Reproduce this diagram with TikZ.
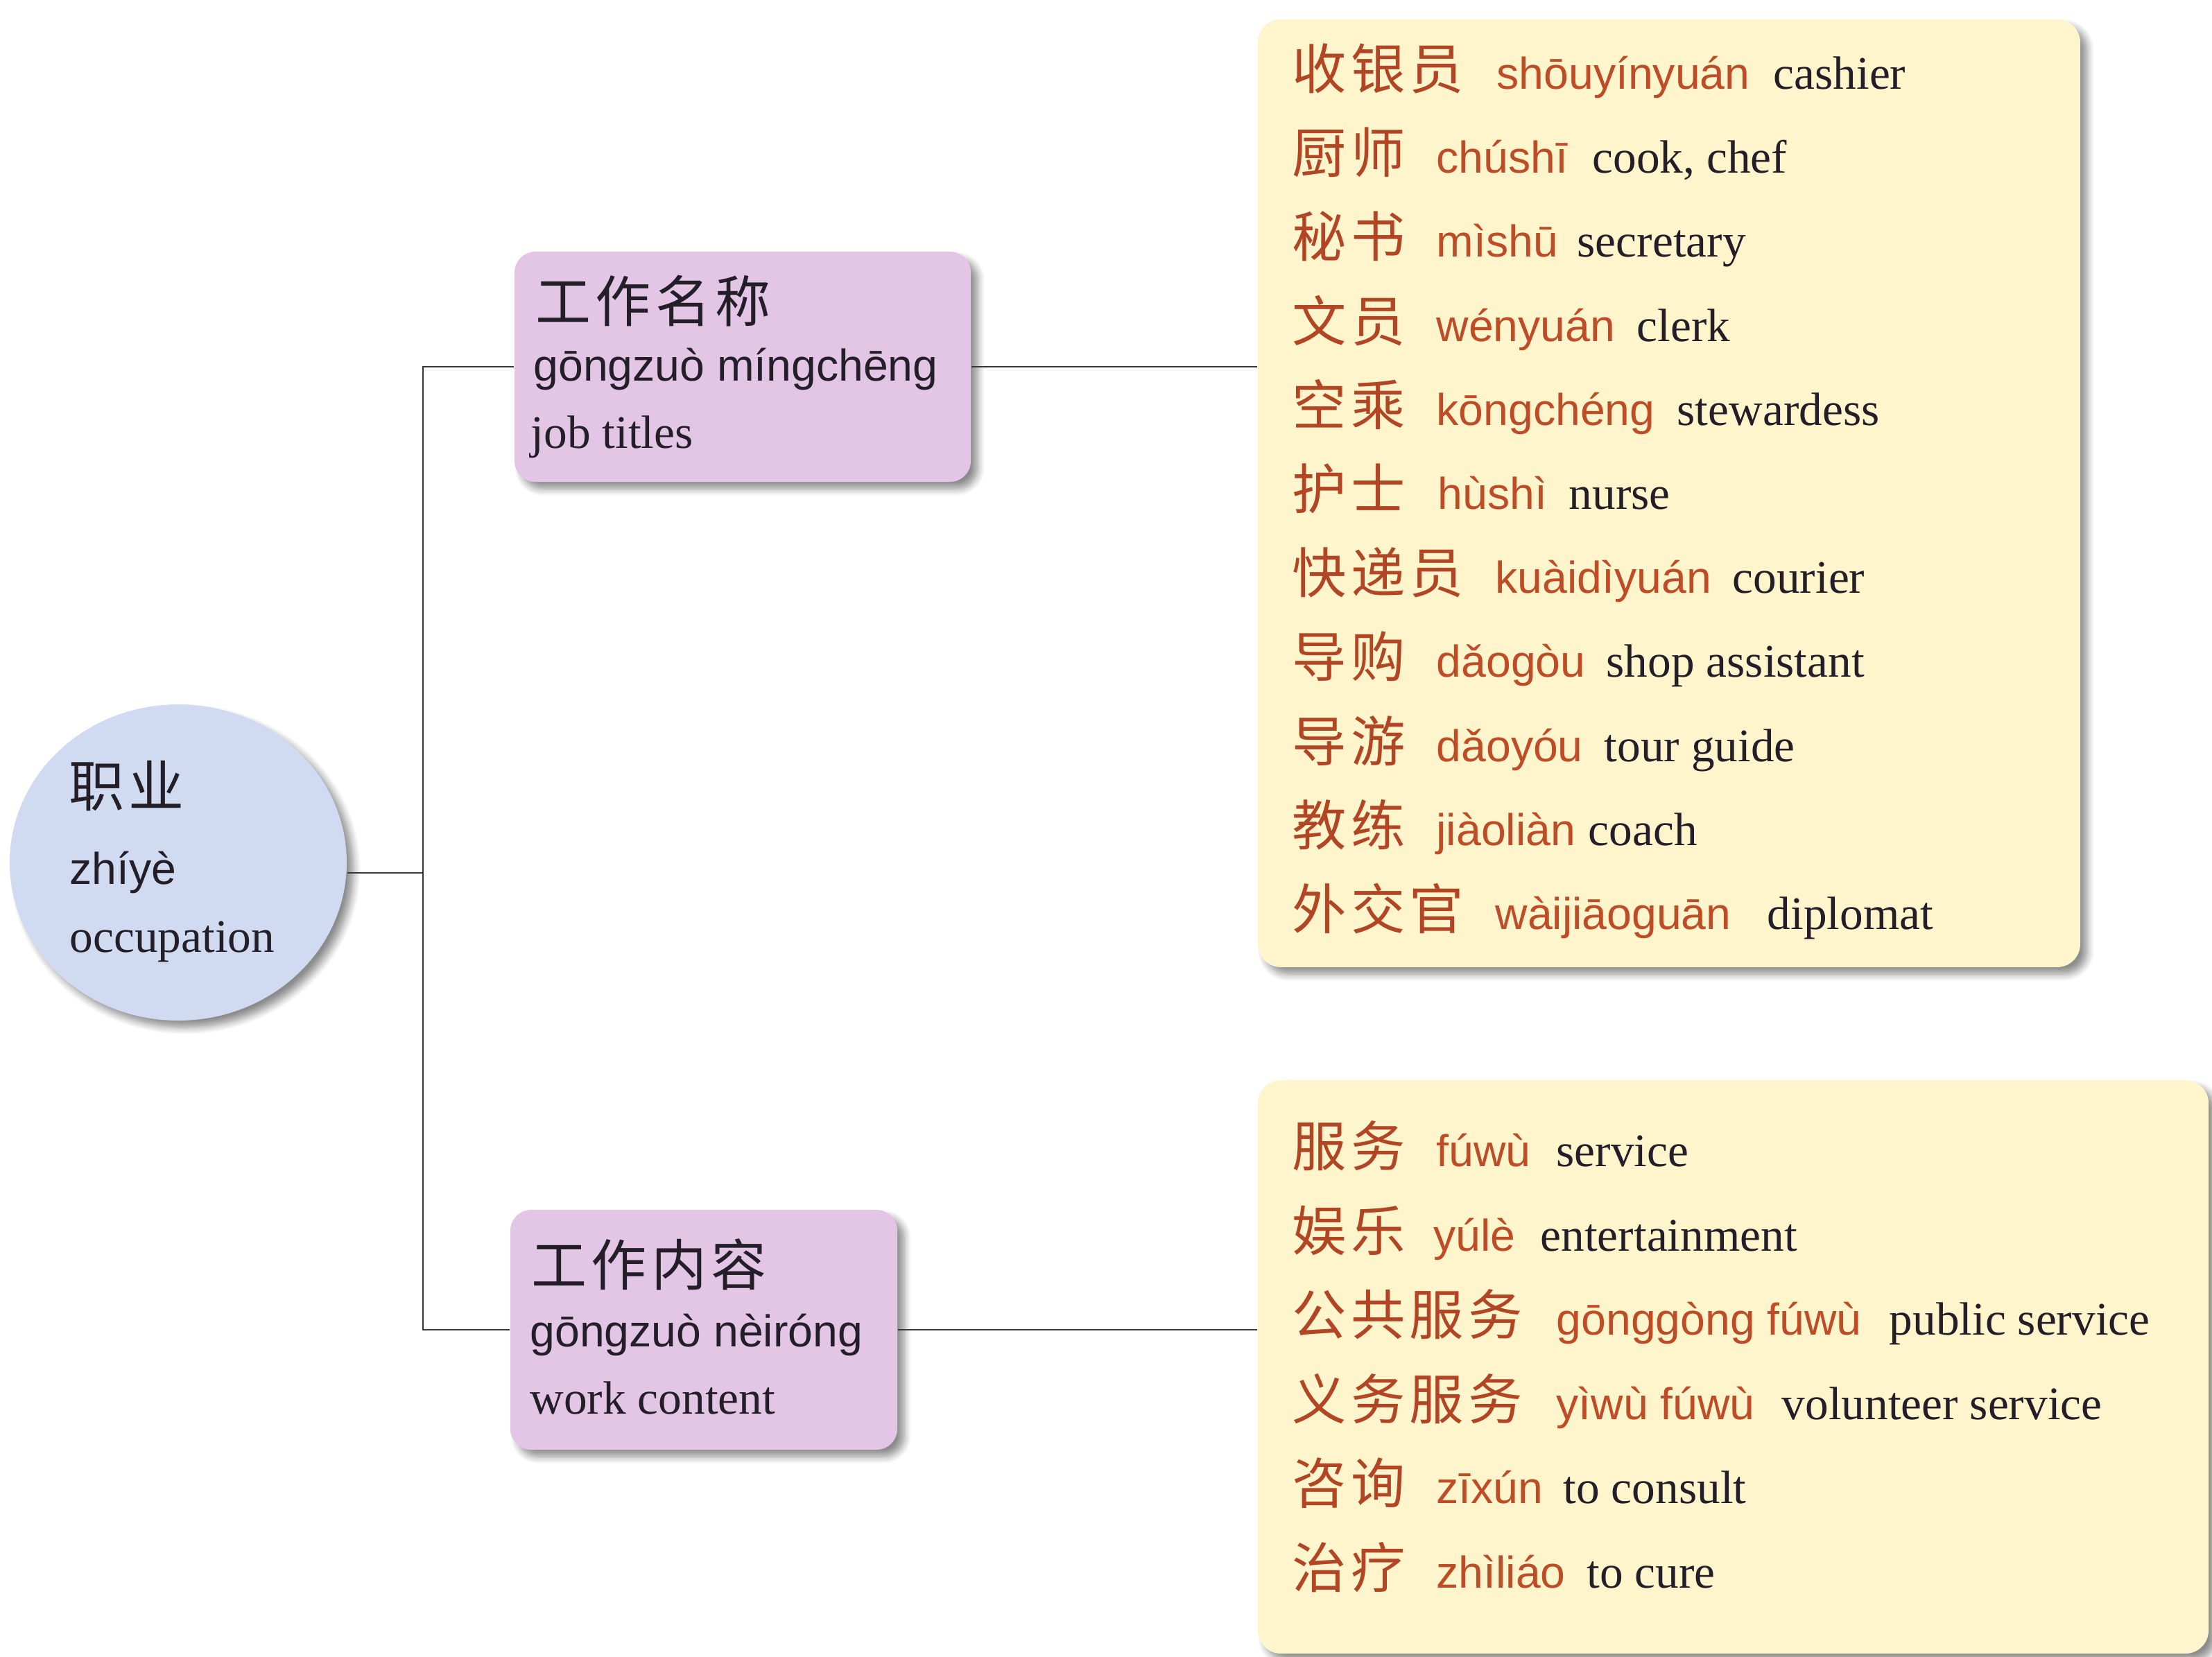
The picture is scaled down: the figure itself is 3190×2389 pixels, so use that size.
\documentclass[tikz,border=0pt]{standalone}
\usepackage{fontspec}
\setmainfont{Liberation Serif}
\newfontfamily\cjk[LetterSpace=8]{Noto Sans CJK SC}
\newfontfamily\pyf{Liberation Sans}
\usetikzlibrary{shapes.geometric,shadows.blur}
\definecolor{circfill}{RGB}{208,218,240}
\definecolor{boxfill}{RGB}{227,197,229}
\definecolor{notefill}{RGB}{254,245,205}
\definecolor{pycol}{RGB}{190,76,38}
\definecolor{zhcol}{RGB}{178,70,36}
\definecolor{inkcol}{RGB}{35,30,40}
\definecolor{linecol}{RGB}{55,55,55}
\begin{document}
\begin{tikzpicture}[x=0.3pt,y=-0.3pt,
  shad/.style={blur shadow={shadow xshift=3pt,shadow yshift=-3pt,shadow blur steps=8,shadow opacity=45,shadow blur radius=3pt}},
  ovalnode/.style={ellipse,fill=circfill,draw=none,inner sep=0pt,minimum width=145.8pt,minimum height=136.8pt,shad},
  purplebox/.style={rectangle,rounded corners=9pt,fill=boxfill,draw=none,inner sep=0pt,shad},
  notebox/.style={rectangle,rounded corners=10pt,fill=notefill,draw=none,inner sep=0pt,shad},
  conn/.style={draw=linecol,line width=0.75pt},
  lat/.style={font=\fontsize{20.2pt}{24pt}\selectfont,inner sep=0pt,anchor=base west,text=inkcol},
  pyk/.style={font=\pyf\fontsize{19.3pt}{23pt}\selectfont,inner sep=0pt,anchor=base west,text=inkcol},
  zhk/.style={font=\cjk\fontsize{24pt}{28pt}\selectfont,inner sep=0pt,anchor=base west,text=inkcol},
  pyr/.style={pyk,text=pycol},
  zhr/.style={font=\cjk\fontsize{23.5pt}{28pt}\selectfont,inner sep=0pt,anchor=base west,text=zhcol},
]
\useasboundingbox (0,0) rectangle (3190,2389);

% shapes
\node[ovalnode] (occ) at (257,1244) {};
\node[purplebox,minimum width=197.4pt,minimum height=99.6pt] (jt) at (1071,529) {};
\node[purplebox,minimum width=167.4pt,minimum height=103.8pt] (wc) at (1015,1918) {};
\node[notebox,minimum width=355.8pt,minimum height=410.1pt] (lista) at (2407,711.5) {};
\node[notebox,minimum width=411.3pt,minimum height=248.1pt] (listb) at (2499.5,1971.5) {};

% connectors
\coordinate (hub) at (610,1259);
\draw[conn] (hub -| occ.east) -- (hub);
\draw[conn] (jt.west) -| (hub) |- (wc.west);
\draw[conn] (jt.east) -- (jt.east -| lista.west);
\draw[conn] (wc.east) -- (wc.east -| listb.west);

% centre node text
\node[zhk] (occz) at (99,1163) {职业};
\node[pyk] (occp) at (100,1275) {zhíyè};
\node[lat] (occe) at (100,1373) {occupation};

% job titles box
\node[zhk] (jtz) at (772,464) {工作名称};
\node[pyk] (jtp) at (769,549) {gōngzuò míngchēng};
\node[lat] (jte) at (765,646) {job titles};

% work content box
\node[zhk] (wcz) at (766,1854) {工作内容};
\node[pyk] (wcp) at (764,1942) {gōngzuò nèiróng};
\node[lat] (wce) at (764,2039) {work content};

% list A
\node[zhr] (a1z) at (1863,128) {收银员};
\node[pyr] (a1p) at (2158,128) {shōuyínyuán};
\node[lat] (a1e) at (2557,128) {cashier};

\node[zhr] (a2z) at (1863,249) {厨师};
\node[pyr] (a2p) at (2071,249) {chúshī};
\node[lat] (a2e) at (2296,249) {cook, chef};

\node[zhr] (a3z) at (1863,370) {秘书};
\node[pyr] (a3p) at (2071,370) {mìshū};
\node[lat] (a3e) at (2274,370) {secretary};

\node[zhr] (a4z) at (1863,492) {文员};
\node[pyr] (a4p) at (2071,492) {wényuán};
\node[lat] (a4e) at (2360,492) {clerk};

\node[zhr] (a5z) at (1863,613) {空乘};
\node[pyr] (a5p) at (2071,613) {kōngchéng};
\node[lat] (a5e) at (2418,613) {stewardess};

\node[zhr] (a6z) at (1863,734) {护士};
\node[pyr] (a6p) at (2073,734) {hùshì};
\node[lat] (a6e) at (2262,734) {nurse};

\node[zhr] (a7z) at (1863,855) {快递员};
\node[pyr] (a7p) at (2156,855) {kuàidìyuán};
\node[lat] (a7e) at (2498,855) {courier};

\node[zhr] (a8z) at (1863,976) {导购};
\node[pyr] (a8p) at (2071,976) {dǎogòu};
\node[lat] (a8e) at (2316,976) {shop assistant};

\node[zhr] (a9z) at (1863,1098) {导游};
\node[pyr] (a9p) at (2071,1098) {dǎoyóu};
\node[lat] (a9e) at (2313,1098) {tour guide};

\node[zhr] (a10z) at (1863,1219) {教练};
\node[pyr] (a10p) at (2071,1219) {jiàoliàn};
\node[lat] (a10e) at (2290,1219) {coach};

\node[zhr] (a11z) at (1863,1340) {外交官};
\node[pyr] (a11p) at (2156,1340) {wàijiāoguān};
\node[lat] (a11e) at (2548,1340) {diplomat};

% list B
\node[zhr] (b1z) at (1863,1682) {服务};
\node[pyr] (b1p) at (2071,1682) {fúwù};
\node[lat] (b1e) at (2244,1682) {service};

\node[zhr] (b2z) at (1863,1804) {娱乐};
\node[pyr] (b2p) at (2067,1804) {yúlè};
\node[lat] (b2e) at (2221,1804) {entertainment};

\node[zhr] (b3z) at (1863,1925) {公共服务};
\node[pyr] (b3p) at (2244,1925) {gōnggòng fúwù};
\node[lat] (b3e) at (2724,1925) {public service};

\node[zhr] (b4z) at (1863,2047) {义务服务};
\node[pyr] (b4p) at (2244,2047) {yìwù fúwù};
\node[lat] (b4e) at (2569,2047) {volunteer service};

\node[zhr] (b5z) at (1863,2168) {咨询};
\node[pyr] (b5p) at (2071,2168) {zīxún};
\node[lat] (b5e) at (2254,2168) {to consult};

\node[zhr] (b6z) at (1863,2290) {治疗};
\node[pyr] (b6p) at (2071,2290) {zhìliáo};
\node[lat] (b6e) at (2288,2290) {to cure};
\end{tikzpicture}
\end{document}
